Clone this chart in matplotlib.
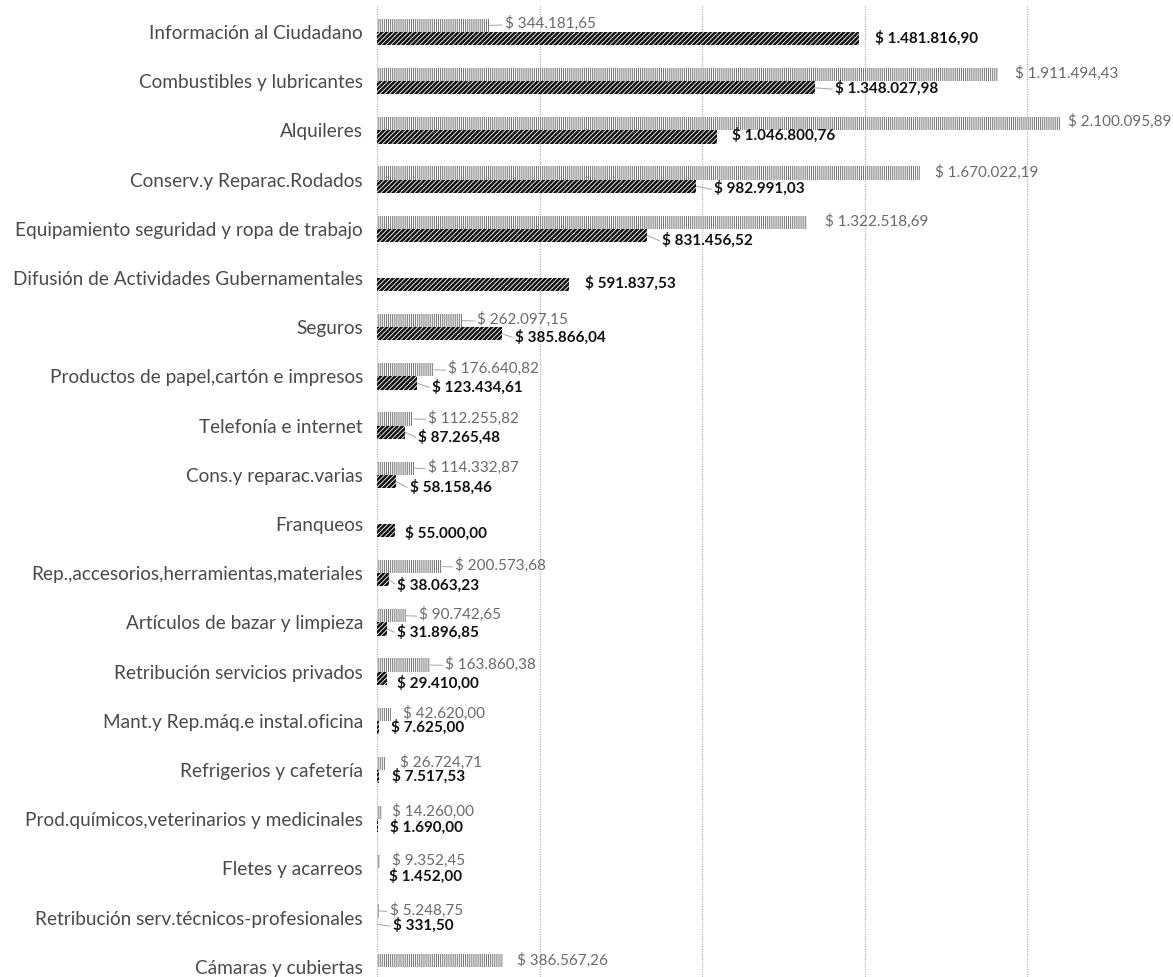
import matplotlib
matplotlib.use("Agg")
import matplotlib.pyplot as plt
import numpy as np

categories = [
    "Información al Ciudadano",
    "Combustibles y lubricantes",
    "Alquileres",
    "Conserv.y Reparac.Rodados",
    "Equipamiento seguridad y ropa de trabajo",
    "Difusión de Actividades Gubernamentales",
    "Seguros",
    "Productos de papel,cartón e impresos",
    "Telefonía e internet",
    "Cons.y reparac.varias",
    "Franqueos",
    "Rep.,accesorios,herramientas,materiales",
    "Artículos de bazar y limpieza",
    "Retribución servicios privados",
    "Mant.y Rep.máq.e instal.oficina",
    "Refrigerios y cafetería",
    "Prod.químicos,veterinarios y medicinales",
    "Fletes y acarreos",
    "Retribución serv.técnicos-profesionales",
    "Cámaras y cubiertas",
]

serie_claro = [344181.65, 1911494.43, 2100095.89, 1670022.19, 1322518.69, np.nan,
               262097.15, 176640.82, 112255.82, 114332.87, np.nan, 200573.68,
               90742.65, 163860.38, 42620.00, 26724.71, 14260.00, 9352.45,
               5248.75, 386567.26]

serie_oscuro = [1481816.90, 1348027.98, 1046800.76, 982991.03, 831456.52, 591837.53,
                385866.04, 123434.61, 87265.48, 58158.46, 55000.00, 38063.23,
                31896.85, 29410.00, 7625.00, 7517.53, 1690.00, 1452.00,
                331.50, np.nan]

# label offsets (pixels) and leader-line flags -- styling only
claro_dx = [16, 17, 8, 15, 18, 0, 15, 14, 15, 14, 0, 13, 13, 15, 12, 14, 10, 12, 11, 14]
claro_dy = [2, 1, 2, 1, 1, 0, 1, 1, 1, 1, 0, 1, 1, 1, 1, 1, 1, 1, 1, 0]
claro_lead = [1, 0, 0, 0, 0, 0, 1, 1, 1, 1, 0, 1, 1, 1, 0, 0, 0, 0, 1, 0]
oscuro_dx = [16, 20, 15, 18, 15, 16, 13, 15, 13, 14, 10, 8, 10, 10, 12, 13, 12, 12, 16, 0]
oscuro_dy = [0, 0, 2, -2, -5, 1, -3, -4, -5, -6, -3, -5, -3, -5, 0, 0, -1, -1, -1, 0]
oscuro_lead = [0, 1, 0, 1, 1, 0, 1, 1, 1, 1, 0, 1, 1, 0, 0, 0, 0, 0, 1, 0]


def fmt(v):
    s = f"{v:,.2f}".replace(",", "X").replace(".", ",").replace("X", ".")
    return "$ " + s


W, H = 1173, 977
fig = plt.figure(figsize=(W / 100, H / 100), dpi=100)
ax = fig.add_axes([377 / W, 0, (W - 377) / W, 1 - 5 / H])

n = len(categories)
y = np.arange(n)
h = 0.27

with plt.rc_context({"hatch.linewidth": 0.7}):
    bars_a = ax.barh(y - h / 2, np.nan_to_num(serie_claro), height=h, color="white",
                     edgecolor="#707070", hatch="||||||||", linewidth=0, zorder=3)
    for p in bars_a:
        if hasattr(p, "set_hatch_linewidth"):
            p.set_hatch_linewidth(0.7)
with plt.rc_context({"hatch.linewidth": 1.8}):
    bars_b = ax.barh(y + h / 2, np.nan_to_num(serie_oscuro), height=h, color="white",
                     edgecolor="#111111", hatch="///////", linewidth=0, zorder=3)
    for p in bars_b:
        if hasattr(p, "set_hatch_linewidth"):
            p.set_hatch_linewidth(1.8)

lead_kw = dict(arrowstyle="-", color="#a5a5a5", lw=0.7, shrinkA=0, shrinkB=0,
               relpos=(0, 0.4))

for i in range(n):
    va = serie_claro[i]
    if not np.isnan(va):
        ax.annotate(fmt(va), xy=(va, i - h / 2), xytext=(claro_dx[i], claro_dy[i]),
                    textcoords="offset pixels", ha="left", va="center",
                    fontsize=11, color="#6a6a6a", family="Lato",
                    arrowprops=lead_kw if claro_lead[i] else None, zorder=4)
    vb = serie_oscuro[i]
    if not np.isnan(vb):
        ax.annotate(fmt(vb), xy=(vb, i + h / 2), xytext=(oscuro_dx[i], oscuro_dy[i]),
                    textcoords="offset pixels", ha="left", va="center",
                    fontsize=11, color="#111111", fontweight="bold", family="Lato",
                    arrowprops=lead_kw if oscuro_lead[i] else None, zorder=4)

ax.set_xlim(0, (W - 377) / 325e-6)
ax.set_ylim((977 - 32) / 49.2, (5 - 32) / 49.2)
ax.set_xticks([0, 5e5, 1e6, 1.5e6, 2e6])
ax.set_xticklabels([])
ax.tick_params(axis="x", length=0)
ax.xaxis.grid(True, linestyle=(0, (1, 1)), color="#b5b5b5", linewidth=0.9, zorder=0)
ax.set_axisbelow(True)
ax.set_yticks(y)
ax.set_yticklabels(categories, fontsize=13.7, color="#4a4a4a", family="Lato")
ax.tick_params(axis="y", length=0, pad=10)
for s in ax.spines.values():
    s.set_visible(False)

fig.savefig("out.png", dpi=100, facecolor="white")
